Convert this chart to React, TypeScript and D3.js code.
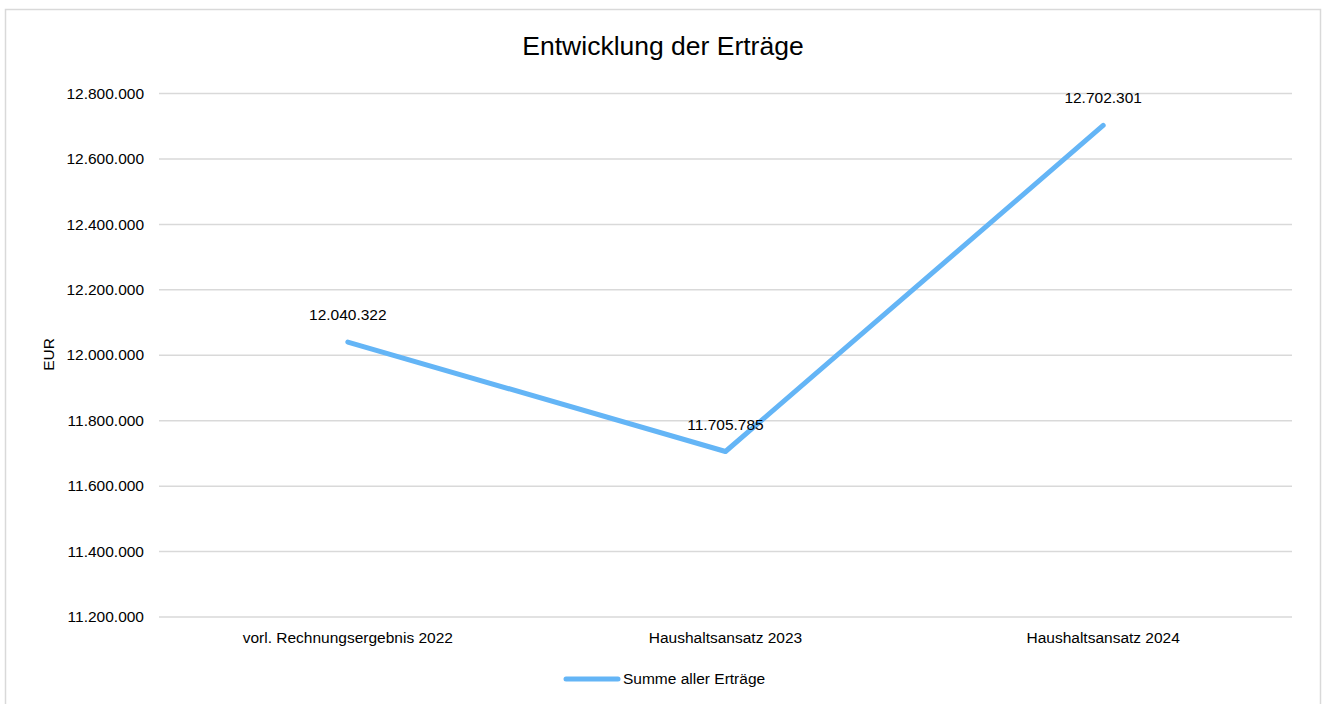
import { useEffect, useRef } from "react";
import * as d3 from "d3";

const categories = [
  "vorl. Rechnungsergebnis 2022",
  "Haushaltsansatz 2023",
  "Haushaltsansatz 2024",
];
const values = [12040322, 11705785, 12702301];
const yTicks = [11200000, 11400000, 11600000, 11800000, 12000000, 12200000, 12400000, 12600000, 12800000];
const seriesName = "Summe aller Erträge";

const width = 1322;
const height = 704;
const font = "Liberation Sans, Arial, sans-serif";
const fs = 15.5;

const fmt = (v: number) => d3.format(",")(v).replace(/,/g, ".");

const App = () => {
  const ref = useRef<SVGSVGElement>(null);

  useEffect(() => {
    if (!ref.current) return;
    const svg = d3.select(ref.current);
    svg.selectAll("*").remove();

    const left = 159;
    const right = 1292;
    const top = 93.5;
    const bottom = 617;

    const x = d3.scaleBand().domain(categories).range([left, right]);
    const y = d3.scaleLinear().domain([11200000, 12800000]).range([bottom, top]);

    // chart frame
    svg
      .append("rect")
      .attr("x", 5.5)
      .attr("y", 9.5)
      .attr("width", 1315)
      .attr("height", 720)
      .attr("fill", "#fff")
      .attr("stroke", "#d9d9d9")
      .attr("stroke-width", 1.5);

    svg
      .append("text")
      .attr("x", 663)
      .attr("y", 54.5)
      .attr("text-anchor", "middle")
      .attr("font-family", font)
      .attr("font-size", 26.5)
      .attr("fill", "#000")
      .text("Entwicklung der Erträge");

    // gridlines
    svg
      .selectAll(".grid")
      .data(yTicks)
      .enter()
      .append("line")
      .attr("x1", left)
      .attr("x2", right)
      .attr("y1", (d) => y(d))
      .attr("y2", (d) => y(d))
      .attr("stroke", "#d9d9d9")
      .attr("stroke-width", 1.5);

    svg
      .selectAll(".ytick")
      .data(yTicks)
      .enter()
      .append("text")
      .attr("x", 144)
      .attr("y", (d) => y(d) + 5.2)
      .attr("text-anchor", "end")
      .attr("font-family", font)
      .attr("font-size", fs)
      .attr("fill", "#000")
      .text((d) => fmt(d));

    svg
      .append("text")
      .attr("transform", "translate(54,354.5) rotate(-90)")
      .attr("text-anchor", "middle")
      .attr("font-family", font)
      .attr("font-size", fs)
      .attr("fill", "#000")
      .text("EUR");

    svg
      .selectAll(".xtick")
      .data(categories)
      .enter()
      .append("text")
      .attr("x", (d) => (x(d) ?? 0) + x.bandwidth() / 2)
      .attr("y", 642.5)
      .attr("text-anchor", "middle")
      .attr("font-family", font)
      .attr("font-size", fs)
      .attr("fill", "#000")
      .text((d) => d);

    const line = d3
      .line<number>()
      .x((_, i) => (x(categories[i]) ?? 0) + x.bandwidth() / 2)
      .y((d) => y(d));

    svg
      .append("path")
      .datum(values)
      .attr("d", line)
      .attr("fill", "none")
      .attr("stroke", "#64b5f6")
      .attr("stroke-width", 5)
      .attr("stroke-linecap", "round")
      .attr("stroke-linejoin", "round");

    svg
      .selectAll(".dlabel")
      .data(values)
      .enter()
      .append("text")
      .attr("x", (_, i) => (x(categories[i]) ?? 0) + x.bandwidth() / 2)
      .attr("y", (d) => y(d) - 22)
      .attr("text-anchor", "middle")
      .attr("font-family", font)
      .attr("font-size", fs)
      .attr("fill", "#000")
      .text((d) => fmt(d));

    // legend
    svg
      .append("line")
      .attr("x1", 566)
      .attr("x2", 618)
      .attr("y1", 679)
      .attr("y2", 679)
      .attr("stroke", "#64b5f6")
      .attr("stroke-width", 5)
      .attr("stroke-linecap", "round");

    svg
      .append("text")
      .attr("x", 623)
      .attr("y", 684)
      .attr("font-family", font)
      .attr("font-size", fs)
      .attr("fill", "#000")
      .text(seriesName);
  }, []);

  return (
    <svg
      ref={ref}
      width={width}
      height={height}
      style={{ position: "absolute", left: 0, top: 0 }}
    />
  );
};

export default App;
